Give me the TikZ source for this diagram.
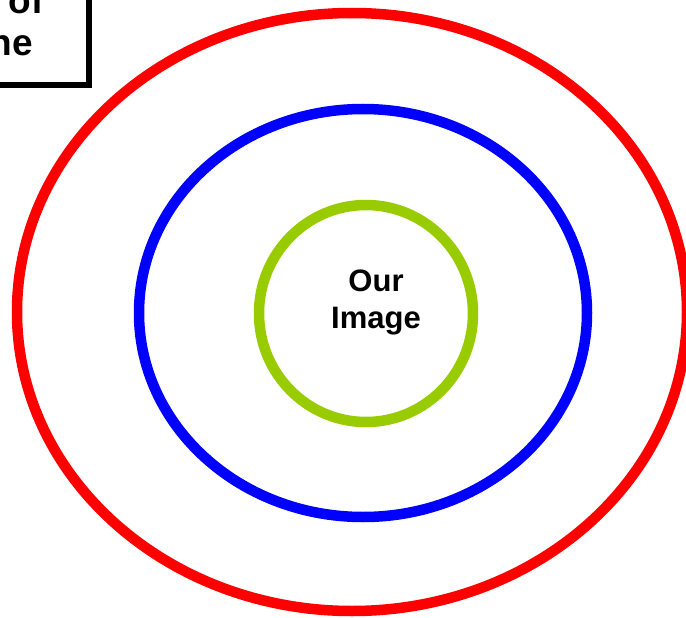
\documentclass[tikz,border=0pt]{standalone}
\usepackage{fontspec}
\setmainfont{Liberation Sans}
\definecolor{ringred}{HTML}{FF0000}
\definecolor{ringblue}{HTML}{0000FF}
\definecolor{ringgreen}{HTML}{99CC00}
\begin{document}
\begin{tikzpicture}[x=1pt,y=-1pt,
  ring/.style={line width=10.5pt},
  boxframe/.style={draw=black,line width=6pt},
  boxtext/.style={inner sep=0pt,font=\bfseries\fontsize{37}{42}\selectfont},
  centretext/.style={inner sep=0pt,align=center,font=\bfseries\fontsize{31}{37}\selectfont}]
  \useasboundingbox (0,0) rectangle (686,618);
  \clip (0,0) rectangle (686,618);
  % legend box running off the top-left corner
  \draw[boxframe] (-150,-150) rectangle (89,85);
  \node[boxtext,anchor=base east] (legendA) at (44,14) {s of};
  \node[boxtext,anchor=base east] (legendB) at (33,56) {ne};
  % three nested rings
  \draw[ring,ringred]   (352,312) ellipse [x radius=335,y radius=299];
  \draw[ring,ringblue]  (363,313) ellipse [x radius=224,y radius=204];
  \draw[ring,ringgreen] (366,313.5) ellipse [x radius=107,y radius=108.5];
  \node[centretext,anchor=north] (core) at (376,270) {Our\\Image};
\end{tikzpicture}
\end{document}
